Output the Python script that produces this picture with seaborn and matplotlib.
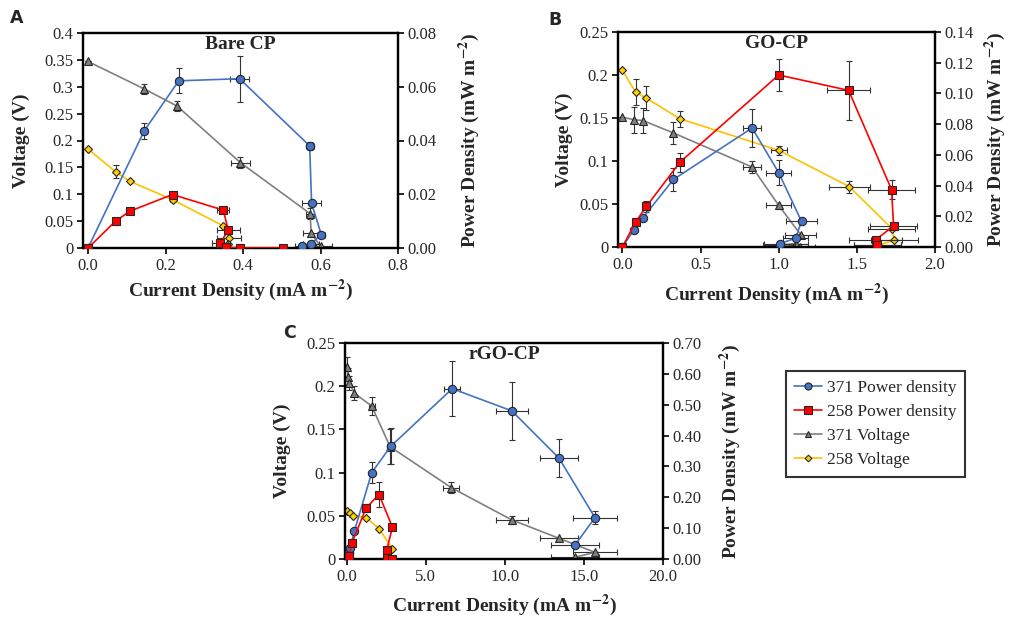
import numpy as np
import matplotlib
matplotlib.use("Agg")
import matplotlib.pyplot as plt
from matplotlib.lines import Line2D
import seaborn as sns

# ---------------- data ----------------
# Panel A: Bare CP
A_371P_x = [0, 0.145, 0.234, 0.391, 0.572, 0.577, 0.602, 0.576, 0.553]
A_371P_y = [0, 0.0436, 0.0622, 0.063, 0.038, 0.0166, 0.005, 0.0016, 0.0008]
A_371P_xe = [0, 0, 0, 0.025, 0.01, 0.025, 0.01, 0.02, 0.02]
A_371P_ye = [0, 0.003, 0.0047, 0.0085, 0.0015, 0, 0, 0, 0]
A_258P_x = [0, 0.071, 0.108, 0.218, 0.349, 0.362, 0.341, 0.355, 0.393, 0.502]
A_258P_y = [0, 0.0100, 0.0137, 0.0199, 0.0141, 0.0066, 0.0019, 0.0003, 0, 0]
A_258P_xe = [0, 0, 0, 0, 0.015, 0.03, 0.02, 0, 0, 0]
A_258P_ye = [0, 0.001, 0, 0.0008, 0, 0, 0, 0, 0, 0]
A_371V_x = [0, 0.145, 0.230, 0.393, 0.573, 0.576, 0.600, 0.587, 0.574, 0.561, 0.553]
A_371V_y = [0.347, 0.296, 0.264, 0.159, 0.064, 0.028, 0.003, 0.002, 0.001, 0.001, 0.0]
A_371V_xe = [0, 0, 0, 0.025, 0.01, 0.02, 0.03, 0, 0, 0, 0]
A_371V_ye = [0, 0.01, 0.01, 0.01, 0.01, 0, 0, 0, 0, 0, 0]
A_258V_x = [0, 0.071, 0.108, 0.218, 0.349, 0.364, 0.360, 0.345, 0.356, 0.393, 0.502]
A_258V_y = [0.184, 0.142, 0.124, 0.090, 0.041, 0.018, 0.008, 0.005, 0.001, 0, 0]
A_258V_xe = [0, 0, 0, 0, 0, 0.03, 0, 0, 0, 0, 0]
A_258V_ye = [0, 0.012, 0, 0.005, 0, 0, 0, 0, 0, 0, 0]

# Panel B: GO-CP
B_371P_x = [0, 0.075, 0.132, 0.327, 0.830, 1.000, 1.146, 1.108, 1.007]
B_371P_y = [0, 0.0113, 0.0191, 0.044, 0.0775, 0.0484, 0.0167, 0.0057, 0.0022]
B_371P_xe = [0, 0, 0, 0, 0.06, 0.08, 0.1, 0.08, 0.1]
B_371P_ye = [0, 0, 0, 0.0073, 0.0123, 0.0082, 0, 0, 0]
B_258P_x = [0, 0.085, 0.154, 0.369, 1.0, 1.447, 1.722, 1.735, 1.622, 1.630]
B_258P_y = [0, 0.0163, 0.0265, 0.0553, 0.112, 0.102, 0.0374, 0.0137, 0.0048, 0.001]
B_258P_xe = [0, 0, 0, 0, 0, 0.14, 0.15, 0.15, 0.17, 0.15]
B_258P_ye = [0, 0, 0.0035, 0.0062, 0.0105, 0.019, 0.0062, 0, 0, 0]
B_371V_x = [0, 0.075, 0.132, 0.327, 0.830, 1.000, 1.140, 1.108, 1.000, 1.135]
B_371V_y = [0.151, 0.148, 0.147, 0.1326, 0.093, 0.0484, 0.0145, 0.004, 0.002, 0.0]
B_371V_xe = [0, 0, 0, 0, 0.06, 0.08, 0.1, 0.08, 0.1, 0.1]
B_371V_ye = [0, 0.015, 0.015, 0.013, 0.007, 0, 0, 0, 0, 0]
B_258V_x = [0, 0.085, 0.154, 0.369, 1.0, 1.451, 1.724, 1.739, 1.633, 1.625]
B_258V_y = [0.2054, 0.180, 0.173, 0.149, 0.1124, 0.0703, 0.0215, 0.0078, 0.002, 0.0005]
B_258V_xe = [0, 0, 0, 0, 0.05, 0.13, 0.15, 0.15, 0.15, 0]
B_258V_ye = [0, 0.015, 0.014, 0.009, 0.005, 0.007, 0, 0, 0, 0]

# Panel C: rGO-CP
C_371P_x = [0, 0.15, 0.21, 0.48, 1.58, 2.78, 6.67, 10.44, 13.42, 15.70, 14.43]
C_371P_y = [0, 0.0205, 0.035, 0.09, 0.28, 0.365, 0.552, 0.480, 0.327, 0.134, 0.045]
C_371P_xe = [0, 0, 0, 0, 0, 0, 0.5, 1.0, 1.2, 1.4, 1.5]
C_371P_ye = [0, 0, 0, 0, 0.034, 0.058, 0.09, 0.095, 0.062, 0.022, 0]
C_258P_x = [0, 0.15, 0.32, 1.22, 2.04, 2.89, 2.53, 2.57, 2.85]
C_258P_y = [0, 0.010, 0.051, 0.165, 0.209, 0.103, 0.029, 0.004, 0.001]
C_258P_xe = [0, 0, 0, 0, 0, 0, 0, 0, 0]
C_258P_ye = [0, 0, 0, 0.014, 0.04, 0, 0, 0, 0]
C_371V_x = [0.04, 0.10, 0.17, 0.48, 1.58, 2.74, 6.60, 10.44, 13.42, 15.70, 14.43]
C_371V_y = [0.222, 0.211, 0.2037, 0.192, 0.177, 0.130, 0.0827, 0.0452, 0.024, 0.0077, 0.002]
C_371V_xe = [0, 0, 0, 0, 0.2, 0.2, 0.5, 1.0, 1.2, 1.4, 1.5]
C_371V_ye = [0.012, 0.01, 0.008, 0.008, 0.01, 0.02, 0.006, 0.005, 0, 0, 0]
C_258V_x = [0.04, 0.21, 0.42, 1.22, 2.06, 2.89, 2.57, 2.64, 2.74]
C_258V_y = [0.0556, 0.053, 0.0502, 0.048, 0.0348, 0.0116, 0.0058, 0.0008, 0.0]
C_258V_xe = [0, 0, 0, 0, 0, 0, 0, 0, 0]
C_258V_ye = [0, 0, 0, 0, 0, 0, 0, 0, 0]

panel_titles = ["Bare CP", "GO-CP", "rGO-CP"]
panel_letters = ["A", "B", "C"]
legend_labels = ["371 Power density", "258 Power density", "371 Voltage", "258 Voltage"]

# ---------------- style ----------------
sns.set_theme(style="white")
plt.rcParams["font.family"] = ["Liberation Serif", "DejaVu Serif"]
plt.rcParams["mathtext.fontset"] = "stix"
plt.rcParams["axes.linewidth"] = 1.6

STY = {
    "371P": dict(color="#4472C4", marker="o", mfc="#4472C4", ms=6.0),
    "258P": dict(color="#FF0000", marker="s", mfc="#FF0000", ms=6.0),
    "371V": dict(color="#808080", marker="^", mfc="#7F7F7F", ms=5.5),
    "258V": dict(color="#FFC000", marker="D", mfc="#FFD000", ms=4.0),
}
EDGE = "#262626"

fig = plt.figure(figsize=(10.10, 6.17), dpi=100)


def series(ax, x, y, xe, ye, key):
    s = STY[key]
    ax.errorbar(x, y, xerr=xe, yerr=ye, fmt="none", ecolor="#333333",
                elinewidth=0.8, capsize=2.5, capthick=0.8, zorder=2)
    sns.lineplot(x=x, y=y, ax=ax, sort=False, estimator=None, color=s["color"],
                 linewidth=1.2, marker=s["marker"], markersize=s["ms"],
                 markerfacecolor=s["mfc"], markeredgecolor=EDGE,
                 markeredgewidth=0.8, zorder=3)


def panel(rect, xlim, xticks, xfmt, vmax, vstep, pmax, pstep, data, title,
          letter, letter_xy, ylab_x, ylab2_x, xlab_y):
    ax = fig.add_axes(rect)
    ax2 = ax.twinx()
    (P371, P258, V371, V258) = data
    series(ax, *V371, "371V")
    series(ax, *V258, "258V")
    series(ax2, *P371, "371P")
    series(ax2, *P258, "258P")
    ax.set_xlim(*xlim)
    ax.set_ylim(0, vmax)
    ax2.set_ylim(0, pmax)
    ax.set_xticks(xticks)
    ax.set_xticklabels([xfmt.format(t) for t in xticks])
    vt = np.round(np.arange(0, vmax + 1e-9, vstep), 3)
    ax.set_yticks(vt)
    ax.set_yticklabels(["0" if t == 0 else ("%g" % t) for t in vt])
    pt = np.round(np.arange(0, pmax + 1e-9, pstep), 3)
    ax2.set_yticks(pt)
    ax2.set_yticklabels(["%.2f" % t for t in pt])
    for a in (ax, ax2):
        a.tick_params(axis="both", which="major", labelsize=12, direction="out",
                      length=4, width=1.2, color="black", pad=3)
        a.grid(False)
        for sp in a.spines.values():
            sp.set_color("black")
            sp.set_linewidth(1.6)
    ax.tick_params(axis="y", right=False, left=True)
    ax.tick_params(axis="x", bottom=True)
    ax2.tick_params(axis="y", right=True)
    ax.set_xlabel(r"Current Density (mA m$^{\mathbf{-2}}$)", fontsize=14, fontweight="bold")
    ax.set_ylabel("Voltage (V)", fontsize=14, fontweight="bold")
    ax2.set_ylabel(r"Power Density (mW m$^{\mathbf{-2}}$)", fontsize=14, fontweight="bold")
    ax.xaxis.set_label_coords(0.5, xlab_y)
    ax.yaxis.set_label_coords(ylab_x, 0.5)
    ax2.yaxis.set_label_coords(ylab2_x, 0.5)
    ax.text(0.5, 0.945, title, transform=ax.transAxes, ha="center", va="center",
            fontsize=14, fontweight="bold")
    fig.text(letter_xy[0], letter_xy[1], letter, family="DejaVu Sans",
             fontweight="bold", fontsize=12.5, ha="center", va="center")
    return ax, ax2


W, H = 1010.0, 617.0


def rect(l, r, t, b):
    return [l / W, 1 - b / H, (r - l) / W, (b - t) / H]


panel(rect(83, 398, 33, 248), (-0.013, 0.8), [0, 0.2, 0.4, 0.6, 0.8], "{:.1f}",
      0.4, 0.05, 0.08, 0.02,
      ((A_371P_x, A_371P_y, A_371P_xe, A_371P_ye),
       (A_258P_x, A_258P_y, A_258P_xe, A_258P_ye),
       (A_371V_x, A_371V_y, A_371V_xe, A_371V_ye),
       (A_258V_x, A_258V_y, A_258V_xe, A_258V_ye)),
      panel_titles[0], panel_letters[0], (17 / W, 1 - 18 / H), -0.168, 1.186, -0.14)

panel(rect(618, 935, 32, 247), (-0.028, 2.0), [0, 0.5, 1.0, 1.5, 2.0], "{:.1f}",
      0.25, 0.05, 0.14, 0.02,
      ((B_371P_x, B_371P_y, B_371P_xe, B_371P_ye),
       (B_258P_x, B_258P_y, B_258P_xe, B_258P_ye),
       (B_371V_x, B_371V_y, B_371V_xe, B_371V_ye),
       (B_258V_x, B_258V_y, B_258V_xe, B_258V_ye)),
      panel_titles[1], panel_letters[1], (555 / W, 1 - 20 / H), -0.142, 1.15, -0.16)

panel(rect(345, 663, 343, 559), (-0.11, 20.0), [0, 5, 10, 15, 20], "{:.1f}",
      0.25, 0.05, 0.70, 0.10,
      ((C_371P_x, C_371P_y, C_371P_xe, C_371P_ye),
       (C_258P_x, C_258P_y, C_258P_xe, C_258P_ye),
       (C_371V_x, C_371V_y, C_371V_xe, C_371V_ye),
       (C_258V_x, C_258V_y, C_258V_xe, C_258V_ye)),
      panel_titles[2], panel_letters[2], (290 / W, 1 - 333 / H), -0.169, 1.173, -0.155)

handles = []
for key in ["371P", "258P", "371V", "258V"]:
    s = STY[key]
    handles.append(Line2D([0], [0], color=s["color"], lw=1.2, marker=s["marker"],
                          markersize=s["ms"] * 0.85, markerfacecolor=s["mfc"],
                          markeredgecolor=EDGE, markeredgewidth=0.8))
leg = fig.legend(handles, legend_labels, loc="center",
                 bbox_to_anchor=(875.5 / W, 1 - 424 / H), fontsize=12.5,
                 frameon=True, fancybox=False, handlelength=1.6, handletextpad=0.3,
                 labelspacing=0.45, borderpad=0.5)
leg.get_frame().set_edgecolor("black")
leg.get_frame().set_linewidth(1.5)

fig.savefig("out.png", dpi=100)
